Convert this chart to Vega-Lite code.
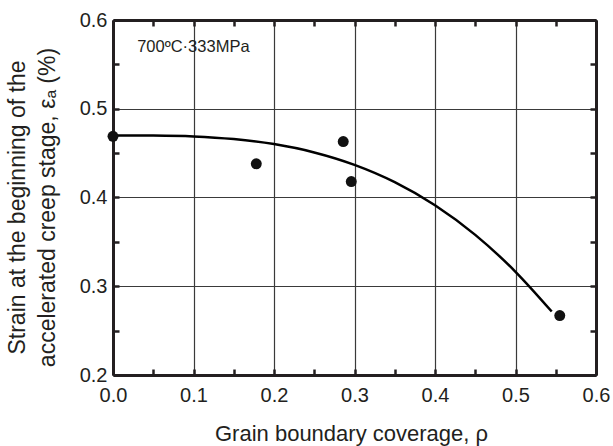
{
  "$schema": "https://vega.github.io/schema/vega-lite/v6.json",
  "width": 483,
  "height": 355,
  "autosize": {"type": "none"},
  "padding": {"left": 113, "top": 20, "right": 17, "bottom": 71},
  "background": "white",
  "config": {"view": {"stroke": null}, "font": "Liberation Sans"},
  "datasets": {
    "curve": [
      {"rho": 0.0, "eps": 0.470},
      {"rho": 0.05, "eps": 0.4698},
      {"rho": 0.1, "eps": 0.4688},
      {"rho": 0.15, "eps": 0.4658},
      {"rho": 0.2, "eps": 0.4602},
      {"rho": 0.25, "eps": 0.4508},
      {"rho": 0.3, "eps": 0.4368},
      {"rho": 0.35, "eps": 0.4173},
      {"rho": 0.4, "eps": 0.3913},
      {"rho": 0.45, "eps": 0.3579},
      {"rho": 0.5, "eps": 0.3163},
      {"rho": 0.545, "eps": 0.2715}
    ],
    "points": [
      {"rho": 0.0, "eps": 0.469},
      {"rho": 0.178, "eps": 0.438},
      {"rho": 0.286, "eps": 0.463},
      {"rho": 0.296, "eps": 0.418},
      {"rho": 0.555, "eps": 0.267}
    ],
    "label": [
      {"rho": 0.03, "eps": 0.5696, "text": "700ºC·333MPa"}
    ]
  },
  "resolve": {"axis": {"x": "independent", "y": "independent"}},
  "layer": [
    {
      "data": {"name": "curve"},
      "mark": {"type": "line", "color": "#000000", "strokeWidth": 2.5, "interpolate": "monotone"},
      "encoding": {
        "x": {
          "field": "rho", "type": "quantitative",
          "scale": {"domain": [0, 0.6], "nice": false, "zero": false},
          "axis": {
            "orient": "bottom",
            "values": [0, 0.1, 0.2, 0.3, 0.4, 0.5, 0.6],
            "format": ".1f",
            "ticks": false,
            "grid": true, "gridColor": "#3a3a3a", "gridWidth": 1.2,
            "domain": true, "domainColor": "#231f20", "domainWidth": 3,
            "labelFontSize": 20, "labelColor": "#231f20", "labelPadding": 10, "labelFlush": false,
            "title": "Grain boundary coverage, ρ",
            "titleFontSize": 22, "titleFontWeight": "normal", "titleColor": "#231f20",
            "titleX": 238, "titleY": 65, "titleBaseline": "alphabetic", "titleAlign": "center", "titleAnchor": null
          }
        },
        "y": {
          "field": "eps", "type": "quantitative",
          "scale": {"domain": [0.2, 0.6], "nice": false, "zero": false},
          "axis": {
            "orient": "left",
            "values": [0.2, 0.3, 0.4, 0.5, 0.6],
            "format": ".1f",
            "ticks": false,
            "grid": true, "gridColor": "#3a3a3a", "gridWidth": 1.2,
            "domain": true, "domainColor": "#231f20", "domainWidth": 3,
            "labelFontSize": 20, "labelColor": "#231f20", "labelPadding": 6, "labelFlush": false,
            "title": ["Strain at the beginning of the", "accelerated creep stage, εₐ (%)"],
            "titleFontSize": 23, "titleFontWeight": "normal", "titleColor": "#231f20",
            "titleAngle": -90, "titleX": -89, "titleY": 187, "titleBaseline": "alphabetic",
            "titleAlign": "center", "titleAnchor": null, "titleLineHeight": 30
          }
        }
      }
    },
    {
      "data": {"name": "points"},
      "mark": {"type": "point", "filled": true, "color": "#111111", "opacity": 1, "size": 120},
      "encoding": {
        "x": {
          "field": "rho", "type": "quantitative",
          "axis": {
            "orient": "top",
            "values": [0, 0.05, 0.1, 0.15, 0.2, 0.25, 0.3, 0.35, 0.4, 0.45, 0.5, 0.55, 0.6],
            "labels": false, "grid": false,
            "ticks": true, "tickSize": -6, "tickWidth": 2.5, "tickColor": "#231f20",
            "domain": true, "domainColor": "#231f20", "domainWidth": 3,
            "title": null
          }
        },
        "y": {
          "field": "eps", "type": "quantitative",
          "axis": {
            "orient": "right",
            "values": [0.2, 0.25, 0.3, 0.35, 0.4, 0.45, 0.5, 0.55, 0.6],
            "labels": false, "grid": false,
            "ticks": true, "tickSize": -6, "tickWidth": 2.5, "tickColor": "#231f20",
            "domain": true, "domainColor": "#231f20", "domainWidth": 3,
            "title": null
          }
        }
      }
    },
    {
      "data": {"name": "label"},
      "mark": {"type": "text", "align": "left", "baseline": "middle", "fontSize": 16.5, "color": "#231f20", "font": "Liberation Sans"},
      "encoding": {
        "x": {
          "field": "rho", "type": "quantitative",
          "axis": {
            "orient": "bottom",
            "values": [0, 0.05, 0.1, 0.15, 0.2, 0.25, 0.3, 0.35, 0.4, 0.45, 0.5, 0.55, 0.6],
            "labels": false, "grid": false, "domain": false,
            "ticks": true, "tickSize": -6, "tickWidth": 2.5, "tickColor": "#231f20",
            "title": null
          }
        },
        "y": {
          "field": "eps", "type": "quantitative",
          "axis": {
            "orient": "left",
            "values": [0.2, 0.25, 0.3, 0.35, 0.4, 0.45, 0.5, 0.55, 0.6],
            "labels": false, "grid": false, "domain": false,
            "ticks": true, "tickSize": -6, "tickWidth": 2.5, "tickColor": "#231f20",
            "title": null
          }
        },
        "text": {"field": "text", "type": "nominal"}
      }
    }
  ]
}
